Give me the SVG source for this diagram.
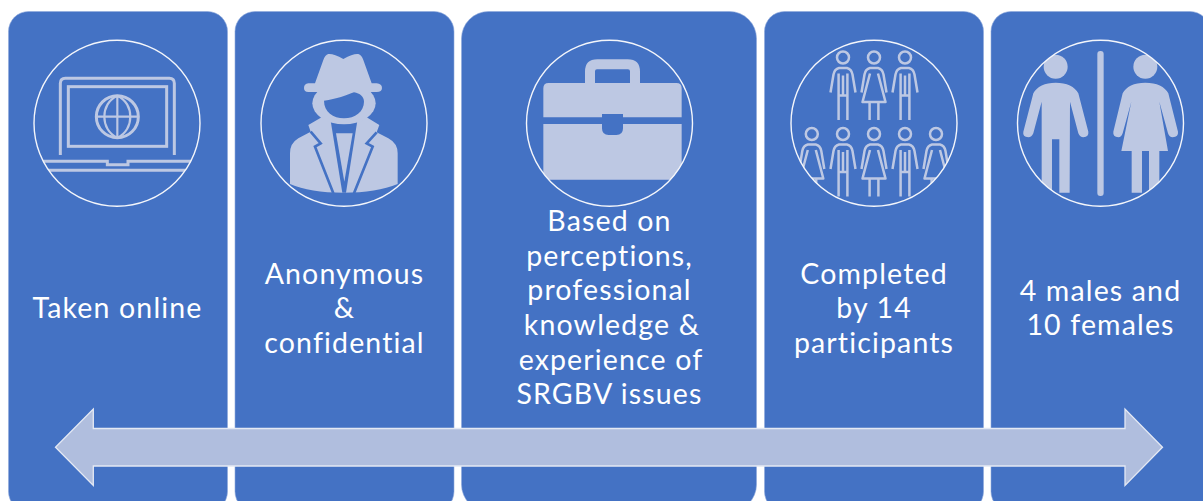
<svg xmlns="http://www.w3.org/2000/svg" xmlns:xlink="http://www.w3.org/1999/xlink" width="1203" height="501" viewBox="0 0 1203 501">
<style>
.panel{fill:#4472C4;stroke:#8FAADC;stroke-width:.6}
.ring{fill:none;stroke:#F4F6FB;stroke-width:1.4}
.lt{fill:#BDC8E3}
.bl{fill:#4472C4}
.ln{fill:none;stroke:#BDC8E3;stroke-width:9}
.ln2{fill:none;stroke:#BDC8E3;stroke-width:6.5}
.ppl{fill:none;stroke:#BDC8E3;stroke-width:2.5;stroke-linejoin:round}
.lab{font-family:"Lato","Open Sans",sans-serif;font-size:28.5px;letter-spacing:1.15px;fill:#fff;text-anchor:middle}
</style>
<defs>
<clipPath id="c1"><circle cx="117" cy="123.3" r="83"/></clipPath>
<clipPath id="c2"><circle cx="344" cy="123.3" r="83"/></clipPath>
<clipPath id="c3"><circle cx="609.5" cy="123.3" r="83"/></clipPath>
<clipPath id="c4"><circle cx="874" cy="123.3" r="83"/></clipPath>
<clipPath id="c5"><circle cx="1100.5" cy="123.3" r="83"/></clipPath>
<g id="man"><circle cx="0" cy="0" r="6"/><path d="M-12.5,35 L-9.5,17 Q-8.5,11.5 -4,10.5 H4 Q8.5,11.5 9.5,17 L12.5,35 M-4.4,16 V62.5 M4.4,16 V62.5 M0,18 V38 M-4.4,38 H4.4"/></g>
<g id="woman"><circle cx="0" cy="0" r="6"/><path d="M-12.5,35 L-9.5,17 Q-8.5,11.5 -4,10.5 H4 Q8.5,11.5 9.5,17 L12.5,35 M-4,16 L-11.5,44.5 H11.5 L4,16 M-4.4,44.5 V62.5 M4.4,44.5 V62.5"/></g>
</defs>
<g id="panel-online"><rect class="panel" x="8.5" y="11.5" width="219" height="500" rx="20"/></g>
<g id="panel-anonymous"><rect class="panel" x="235" y="11.5" width="219" height="500" rx="20"/></g>
<g id="panel-based"><rect class="panel" x="461.5" y="11.5" width="295" height="500" rx="27"/></g>
<g id="panel-completed"><rect class="panel" x="764.5" y="11.5" width="219" height="500" rx="20"/></g>
<g id="panel-gender"><rect class="panel" x="991" y="11.5" width="219" height="500" rx="20"/></g>

<g id="icon-laptop">
<g clip-path="url(#c1)"><g transform="scale(.33333)">
<path class="ln" d="M181,465 V250 Q181,235 196,235 H508 Q523,235 523,250 V465"/>
<rect class="ln" x="205" y="260" width="295" height="179"/>
<circle class="ln" cx="352" cy="350" r="63"/>
<path class="ln2" d="M352,287 V413 M289,350 H415 M352,287 C300,310 300,390 352,413 M352,287 C404,310 404,390 352,413"/>
<path class="ln" d="M125,484 H322 V494 H384 V484 H580 M125,511 H580"/>
</g></g>
<circle class="ring" cx="117" cy="123.3" r="83"/>
</g>

<g id="icon-spy">
<g clip-path="url(#c2)"><g transform="scale(.33333)">
<path class="lt" d="M925,375 L965,352 H1100 L1138,375 L1130,397 L1165,415 Q1193,430 1193,460 V552 Q1130,578 1030,578 Q930,578 870,552 V460 Q870,430 895,415 L932,395 Z"/>
<path class="bl" d="M992,362 H1072 L1038,578 H1027 Z"/>
<path class="lt" d="M1008,400 H1058 L1033,545 Z"/>
<path fill="none" stroke="#4472C4" stroke-width="8" d="M932,395 L962,430 L945,440 L1000,580 M1130,397 L1100,430 L1118,440 L1062,580"/>
<ellipse class="lt" cx="1032" cy="310" rx="95" ry="63"/>
<path class="bl" d="M972,302 C1010,298 1040,285 1062,277 C1080,280 1092,290 1092,305 C1092,335 1065,355 1032,355 C1000,355 972,335 972,302 Z"/>
<path class="lt" d="M985,162 Q1000,160 1030,177 Q1060,160 1075,162 Q1085,165 1090,180 L1115,250 H1130 Q1146,252 1146,264 Q1146,276 1130,276 H925 Q912,276 912,264 Q912,252 925,250 H945 L970,180 Q975,165 985,162 Z"/>
</g></g>
<circle class="ring" cx="344" cy="123.3" r="83"/>
</g>

<g id="icon-briefcase">
<g clip-path="url(#c3)"><g transform="translate(450,0) scale(.33333)">
<path class="lt" d="M405,250 V215 Q405,178 442,178 H533 Q570,178 570,215 V250 H540 V214 Q540,208 534,208 H441 Q435,208 435,214 V250 Z"/>
<path class="lt" d="M280,352 V265 Q280,249 296,249 H679 Q695,249 695,265 V352 H519 V342 H456 V352 Z"/>
<path class="lt" d="M280,372 H456 V385 Q456,405 476,405 H499 Q519,405 519,385 V372 H695 V539 H280 Z"/>
</g></g>
<circle class="ring" cx="609.5" cy="123.3" r="83"/>
</g>

<g id="icon-people">
<g class="ppl" clip-path="url(#c4)">
<use xlink:href="#man" href="#man" x="843" y="57.5"/>
<use xlink:href="#woman" href="#woman" x="874" y="57.5"/>
<use xlink:href="#man" href="#man" x="905" y="57.5"/>
<use xlink:href="#woman" href="#woman" x="811.8" y="134"/>
<use xlink:href="#man" href="#man" x="843" y="134"/>
<use xlink:href="#woman" href="#woman" x="874" y="134"/>
<use xlink:href="#man" href="#man" x="905" y="134"/>
<use xlink:href="#woman" href="#woman" x="936" y="134"/>
</g>
<circle class="ring" cx="874" cy="123.3" r="83"/>
</g>

<g id="icon-gender">
<g clip-path="url(#c5)"><g transform="translate(760,0) scale(.33333)">
<circle class="lt" cx="887" cy="200" r="36"/>
<path class="lt" d="M887,248 C920,248 945,260 955,280 L985,395 Q987,410 970,412 Q960,412 955,400 L930,305 L929,578 H898 V418 H876 V578 H845 V305 L820,400 Q815,412 805,412 Q787,410 790,395 L820,280 C830,260 855,248 887,248 Z"/>
<rect class="lt" x="1012" y="153" width="19" height="435" rx="9"/>
<circle class="lt" cx="1156" cy="200" r="36"/>
<path class="lt" d="M1156,248 C1190,248 1215,260 1225,280 L1254,395 Q1256,410 1238,412 Q1228,412 1224,400 L1198,305 L1224,453 H1198 V578 H1167 V453 H1146 V578 H1115 V453 H1084 L1114,305 L1088,400 Q1084,412 1075,412 Q1058,410 1060,395 L1088,280 C1098,260 1122,248 1156,248 Z"/>
</g></g>
<circle class="ring" cx="1100.5" cy="123.3" r="83"/>
</g>

<g id="labels">
<text class="lab" x="117.5" y="318">Taken online</text>
<text class="lab" x="344.5" y="284">Anonymous</text>
<text class="lab" x="344.5" y="318">&amp;</text>
<text class="lab" x="344.5" y="353">confidential</text>
<text class="lab" x="609.5" y="231">Based on</text>
<text class="lab" x="609.5" y="266">perceptions,</text>
<text class="lab" x="609.5" y="300">professional</text>
<text class="lab" x="612" y="335">knowledge &amp;</text>
<text class="lab" x="611" y="370">experience of</text>
<text class="lab" x="609.5" y="404">SRGBV issues</text>
<text class="lab" x="874" y="284">Completed</text>
<text class="lab" x="874" y="318">by 14</text>
<text class="lab" x="874" y="353">participants</text>
<text class="lab" x="1100.5" y="301">4 males and</text>
<text class="lab" x="1100.5" y="335">10 females</text>
</g>

<g id="connectors">
<path fill="#B0BEDE" stroke="#E4E9F4" stroke-width="1.3" d="M55.5,447.3 L93.3,409 V428.5 H1125 V409 L1162.5,447.3 L1125,485.5 V466 H93.3 V485.5 Z"/>
</g>
</svg>
